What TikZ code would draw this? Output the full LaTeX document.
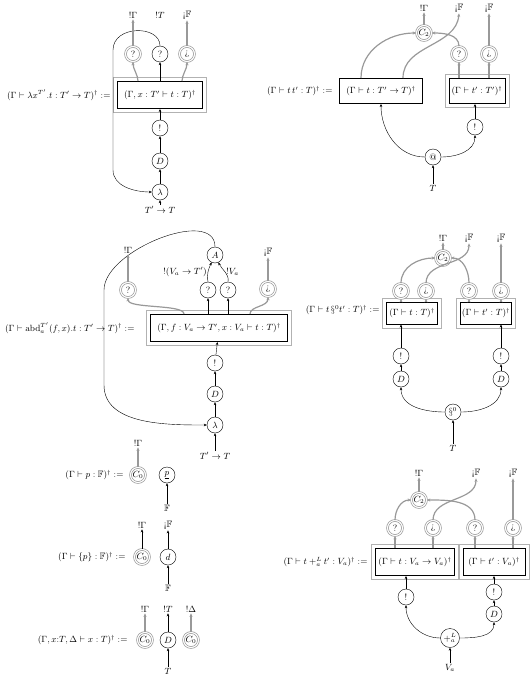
\documentclass[tikz,border=0pt]{standalone}
\usepackage{amsmath,amssymb}
\usepackage{tikz}
\usetikzlibrary{arrows.meta}
\usetikzlibrary{fit}

\tikzset{
  blk/.style={circle, draw, thin, minimum size=16pt, inner sep=0.5pt},
  gry/.style={circle, draw=black!40, double=white, double distance=1.1pt, line width=0.7pt, minimum size=15pt, inner sep=0.5pt},
  term/.style={draw, line width=1pt, minimum height=25pt, inner xsep=1.5pt},
  prom/.style={draw=black!30, thin, inner sep=3.5pt},
  wire/.style={-{Stealth[length=3pt,width=2.6pt]}, thin},
  gwire/.style={-{Stealth[length=3.5pt,width=3pt]}, draw=black!40, line width=1.2pt},
  lab/.style={inner sep=1pt},
}

\begin{document}
\begin{tikzpicture}[x=1pt,y=1pt,font=\fontsize{9.2}{11}\selectfont]
\useasboundingbox (0,0) rectangle (532,-677);

% lambda
\node[anchor=east] (lab1) at (114,-95) {$(\Gamma\vdash\lambda x^{T'}.t:T'\to T)^\dagger :=$};
\node[term, minimum width=85pt, minimum height=27pt] (t1) at (160,-95) {$(\Gamma,x:T'\vdash t:T)^\dagger$};
\node[prom, fit=(t1)] (p1) {};
\node[gry] (q1a) at (133,-54) {?};
\node[blk] (q1b) at (160,-54) {?};
\node[gry] (iq1) at (187,-54) {¿};
\node[lab] (o1a) at (133,-15) {$!\Gamma$};
\node[lab] (o1b) at (160,-15) {$!T$};
\node[lab] (o1c) at (187,-15) {$\text{¡}\mathbb{F}$};
\node[blk] (bang1) at (160,-128) {!};
\node[blk] (d1) at (160,-161) {$D$};
\node[blk] (lam1) at (160,-192) {$\lambda$};
\node[lab] (in1) at (160,-210) {$T'\to T$};
\draw[wire] (in1) -- (lam1);
\draw[wire] (lam1) -- (d1);
\draw[wire] (d1) -- (bang1);
\draw[wire] (bang1) -- (t1);
\draw[wire] (t1) -- (q1b);
\draw[wire] (q1b.north) .. controls +(0,21) and +(0,25) .. (113,-50) -- (113,-170) .. controls +(0,-16) and +(-18,0) .. (lam1.west);
\draw[gwire] ([xshift=-22pt]t1.north) .. controls +(0,6) and +(0,-7) .. (q1a.south);
\draw[gwire] ([xshift=22pt]t1.north) .. controls +(0,6) and +(0,-7) .. (iq1.south);
\draw[gwire] (q1a) -- (o1a);
\draw[gwire] (iq1) -- (o1c);

% application
\node[anchor=east] (lab2) at (336,-91) {$(\Gamma\vdash t\,t':T)^\dagger :=$};
\node[term, minimum width=83pt] (t2a) at (381,-91) {$(\Gamma\vdash t:T'\to T)^\dagger$};
\node[term, minimum width=56pt] (t2b) at (477,-91) {$(\Gamma\vdash t':T')^\dagger$};
\node[prom, fit=(t2b)] (p2b) {};
\node[gry] (c2) at (424,-33) {$C_2$};
\node[gry] (q2) at (459,-54) {?};
\node[gry] (iq2) at (489,-54) {¿};
\node[lab] (o2a) at (424,-8) {$!\Gamma$};
\node[lab] (o2b) at (459,-8) {$\text{¡}\mathbb{F}$};
\node[lab] (o2c) at (489,-8) {$\text{¡}\mathbb{F}$};
\node[blk] (app2) at (433,-157) {@};
\node[lab] (in2) at (433,-188) {$T$};
\node[blk] (bang2) at (475,-127) {!};
\draw[wire] (in2) -- (app2);
\draw[wire] (app2.west) to[out=180,in=-90] (t2a.south);
\draw[wire] (app2.east) to[out=0,in=-90] (bang2);
\draw[wire] (bang2) -- (bang2 |- t2b.south);
\foreach \n in {q2,iq2}
  \draw[gwire] (\n |- t2b.north) -- (\n);
\draw[gwire] ([xshift=-20pt]t2a.north) to[out=90,in=180] (c2.west);
\draw[gwire] ([xshift=22pt]t2a.north) to[out=90,in=-95] (o2b.south);
\draw[gwire] (q2.north) to[out=90,in=0] (c2.east);
\draw[gwire] (iq2) -- (o2c);
\draw[gwire] (c2) -- (o2a);

% abd
\node[anchor=east] (lab3) at (138,-328) {$(\Gamma\vdash\mathrm{abd}^{T'}_a(f,x).t:T'\to T)^\dagger :=$};
\node[term, minimum width=137pt, minimum height=27pt] (t3) at (219,-328) {$(\Gamma,f:V_a\to T',x:V_a\vdash t:T)^\dagger$};
\node[prom, fit=(t3)] (p3) {};
\node[gry] (q3a) at (128,-290) {?};
\node[blk] (q3b) at (208,-290) {?};
\node[blk] (q3c) at (228,-290) {?};
\node[gry] (iq3) at (268,-289) {¿};
\node[blk] (A3) at (215,-255) {$A$};
\node[lab] (o3a) at (128,-250) {$!\Gamma$};
\node[lab] (o3c) at (268,-252) {$\text{¡}\mathbb{F}$};
\node[blk] (bang3) at (215,-363) {!};
\node[blk] (d3) at (215,-394) {$D$};
\node[blk] (lam3) at (215,-425) {$\lambda$};
\node[lab] (in3) at (215,-456) {$T'\to T$};
\draw[wire] (in3) -- (lam3);
\draw[wire] (lam3) -- (d3);
\draw[wire] (d3) -- (bang3);
\draw[wire] (bang3) -- (t3);
\foreach \n in {q3b,q3c}
  \draw[wire] (\n |- t3.north) -- (\n);
\draw[wire] (q3b.north) to[out=100,in=-115] node[left, inner sep=1pt] {$!(V_a\to T')$} (A3);
\draw[wire] (q3c.north) to[out=80,in=-65] node[right, inner sep=1pt] {$!V_a$} (A3);
\draw[wire] (A3.north) .. controls +(0,40) and +(0,40) .. (104,-290) -- (104,-385) .. controls +(0,-40) and +(-40,0) .. (lam3.west);
\draw[gwire] ([xshift=-35pt]t3.north) .. controls +(0,10) and +(0,-11) .. (q3a.south);
\draw[gwire] ([xshift=31pt]t3.north) .. controls +(0,8) and +(0,-10) .. (iq3.south);
\draw[gwire] (q3a) -- (o3a);
\draw[gwire] (iq3) -- (o3c);

% sync
\node[anchor=east] (lab4) at (383,-310) {$(\Gamma\vdash t\,\S^0 t':T)^\dagger :=$};
\node[term, minimum width=51pt, minimum height=22pt] (t4a) at (412,-313) {$(\Gamma\vdash t:T)^\dagger$};
\node[term, minimum width=51pt, minimum height=22pt] (t4b) at (486,-313) {$(\Gamma\vdash t':T)^\dagger$};
\node[prom, fit=(t4a)] (p4a) {};
\node[prom, fit=(t4b)] (p4b) {};
\node[gry] (q4a) at (401,-291) {?};
\node[gry] (iq4a) at (426,-291) {¿};
\node[gry] (q4b) at (469,-291) {?};
\node[gry] (iq4b) at (501,-291) {¿};
\node[gry] (c4) at (443,-258) {$C_2$};
\node[lab] (o4a) at (443,-238) {$!\Gamma$};
\node[lab] (o4b) at (469,-238) {$\text{¡}\mathbb{F}$};
\node[lab] (o4c) at (501,-238) {$\text{¡}\mathbb{F}$};
\node[blk] (bang4a) at (401,-356) {!};
\node[blk] (d4a) at (401,-379) {$D$};
\node[blk] (bang4b) at (501,-356) {!};
\node[blk] (d4b) at (501,-379) {$D$};
\node[blk] (s4) at (453,-412) {$\S^0$};
\node[lab] (in4) at (453,-448) {$T$};
\draw[wire] (in4) -- (s4);
\draw[wire] (s4.west) to[out=180,in=-90] (d4a);
\draw[wire] (s4.east) to[out=0,in=-90] (d4b);
\draw[wire] (d4a) -- (bang4a);
\draw[wire] (d4b) -- (bang4b);
\draw[wire] (bang4a) -- (bang4a |- t4a.south);
\draw[wire] (bang4b) -- (bang4b |- t4b.south);
\foreach \n/\b in {q4a/t4a,iq4a/t4a,q4b/t4b,iq4b/t4b}
  \draw[gwire] (\n |- \b.north) -- (\n);
\draw[gwire] (q4a.north) to[out=90,in=180] (c4.west);
\draw[gwire] (q4b.north) to[out=90,in=0] (c4.east);
\draw[gwire] (iq4a.north) to[out=90,in=-90] (o4b.south);
\draw[gwire] (iq4b) -- (o4c);
\draw[gwire] (c4) -- (o4a);

% constants
\node[anchor=east] (lab5) at (127,-475) {$(\Gamma\vdash p:\mathbb{F})^\dagger :=$};
\node[gry] (c5) at (138,-475) {$C_0$};
\node[blk] (pn5) at (167,-475) {$\underline{p}$};
\node[lab] (o5) at (138,-443) {$!\Gamma$};
\node[lab] (in5) at (167,-508) {$\mathbb{F}$};
\draw[gwire] (c5) -- (o5);
\draw[wire] (in5) -- (pn5);

\node[anchor=east] (lab6) at (129,-557) {$(\Gamma\vdash\{p\}:\mathbb{F})^\dagger :=$};
\node[gry] (c6) at (142,-557) {$C_0$};
\node[blk] (dn6) at (168,-557) {$d$};
\node[lab] (o6a) at (142,-525) {$!\Gamma$};
\node[lab] (o6b) at (168,-525) {$\text{¡}\mathbb{F}$};
\node[lab] (in6) at (168,-588) {$\mathbb{F}$};
\draw[wire] (c6) -- (o6a);
\draw[wire] (dn6) -- (o6b);
\draw[wire] (in6) -- (dn6);

\node[anchor=east] (lab7) at (131,-640) {$(\Gamma,x{:}T,\Delta\vdash x:T)^\dagger :=$};
\node[gry] (c7a) at (145,-640) {$C_0$};
\node[blk] (dn7) at (168,-640) {$D$};
\node[gry] (c7b) at (191,-640) {$C_0$};
\node[lab] (o7a) at (145,-609) {$!\Gamma$};
\node[lab] (o7b) at (168,-609) {$!T$};
\node[lab] (o7c) at (191,-609) {$!\Delta$};
\node[lab] (in7) at (168,-671) {$T$};
\draw[gwire] (c7a) -- (o7a);
\draw[wire] (dn7) -- (o7b);
\draw[gwire] (c7b) -- (o7c);
\draw[wire] (in7) -- (dn7);

% sum
\node[anchor=east] (lab8) at (371,-562) {$(\Gamma\vdash t+^L_a t':V_a)^\dagger :=$};
\node[term, minimum width=79pt, minimum height=27pt] (t8a) at (415,-562) {$(\Gamma\vdash t:V_a\to V_a)^\dagger$};
\node[term, minimum width=62pt, minimum height=27pt] (t8b) at (494,-562) {$(\Gamma\vdash t':V_a)^\dagger$};
\node[prom, fit=(t8a)] (p8a) {};
\node[prom, fit=(t8b)] (p8b) {};
\node[gry] (q8a) at (395,-528) {?};
\node[gry] (iq8a) at (433,-528) {¿};
\node[gry] (q8b) at (475,-528) {?};
\node[gry] (iq8b) at (513,-528) {¿};
\node[gry] (c8) at (419,-500) {$C_2$};
\node[lab] (o8a) at (419,-473) {$!\Gamma$};
\node[lab] (o8b) at (476,-473) {$\text{¡}\mathbb{F}$};
\node[lab] (o8c) at (513,-473) {$\text{¡}\mathbb{F}$};
\node[blk] (bang8a) at (406,-597) {!};
\node[blk] (bang8b) at (494,-592) {!};
\node[blk] (d8b) at (494,-614) {$D$};
\node[blk, minimum size=19pt, inner sep=0pt] (plus8) at (450,-638) {$+^L_a$};
\node[lab] (in8) at (450,-668) {$V_a$};
\draw[wire] (in8) -- (plus8);
\draw[wire] (plus8.west) to[out=180,in=-90] (bang8a);
\draw[wire] (plus8.east) to[out=0,in=-90] (d8b);
\draw[wire] (d8b) -- (bang8b);
\draw[wire] (bang8a) -- (bang8a |- t8a.south);
\draw[wire] (bang8b) -- (bang8b |- t8b.south);
\foreach \n/\b in {q8a/t8a,iq8a/t8a,q8b/t8b,iq8b/t8b}
  \draw[gwire] (\n |- \b.north) -- (\n);
\draw[gwire] (q8a.north) to[out=90,in=180] (c8.west);
\draw[gwire] (q8b.north) to[out=90,in=0] (c8.east);
\draw[gwire] (iq8a.north) to[out=90,in=-90] (o8b.south);
\draw[gwire] (iq8b) -- (o8c);
\draw[gwire] (c8) -- (o8a);
\end{tikzpicture}
\end{document}
